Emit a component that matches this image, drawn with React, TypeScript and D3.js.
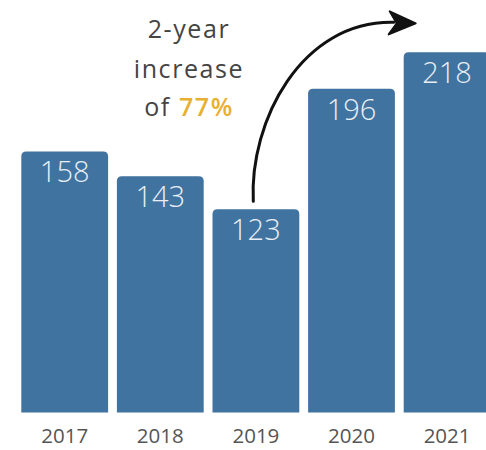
import React from "react";
import * as d3 from "d3";

const years = ["2017", "2018", "2019", "2020", "2021"];
const values = [158, 143, 123, 196, 218];
const annotationLines = ["2-year", "increase", "of "];
const highlight = "77%";

const W = 486;
const H = 450;
const BAR = "#40739f";

function topRoundedRect(x: number, y: number, w: number, h: number, r: number) {
  return `M${x},${y + h}V${y + r}Q${x},${y} ${x + r},${y}H${x + w - r}Q${x + w},${y} ${x + w},${y + r}V${y + h}Z`;
}

export default function App() {
  const x = d3.scaleBand<string>().domain(years).range([21.3, 490.5]).paddingInner(0.092).paddingOuter(0);
  const y = d3.scaleLinear().domain([0, 250]).range([412.5, -0.5]);
  const bw = x.bandwidth();

  const x19 = x("2019")!;
  const x21 = x("2021")!;
  const sx = x19 + bw * 0.47;
  const sy = y(123) - 8;
  const ex = x21 - 10;
  const ey = y(218) - 30;
  const arrowPath = `M${sx},${sy} C${sx - 4},${sy - 80} ${sx + 48},${ey - 2} ${ex},${ey}`;
  const tipX = ex + 22;
  const tipY = ey + 1;
  const head = `M${ex - 4},${ey - 11} L${tipX},${tipY} L${ex - 5},${ey + 12} L${ex + 3},${ey + 1} Z`;

  const font = "'Open Sans', 'Noto Sans', sans-serif";
  const annX = 189;
  const baselines = [38, 78, 116];

  return (
    <svg width={W} height={H} style={{ position: "absolute", left: 0, top: 0, background: "#fff" }}>
      {years.map((yr, i) => (
        <path key={yr} d={topRoundedRect(x(yr)!, y(values[i]), bw, y(0) - y(values[i]), 5)} fill={BAR} />
      ))}
      {years.map((yr, i) => (
        <text
          key={"v" + yr}
          x={x(yr)! + bw / 2}
          y={y(values[i]) + 31}
          textAnchor="middle"
          fill="#e8eef5"
          fontFamily={font}
          fontWeight={300}
          fontSize={29}
        >
          {values[i]}
        </text>
      ))}
      {years.map((yr) => (
        <text
          key={"l" + yr}
          x={x(yr)! + bw / 2}
          y={443}
          textAnchor="middle"
          fill="#555"
          fontFamily={font}
          fontSize={20.5}
        >
          {yr}
        </text>
      ))}
      {annotationLines.map((t, i) => (
        <text
          key={"a" + i}
          x={annX}
          y={baselines[i]}
          textAnchor="middle"
          fill="#444"
          fontFamily={font}
          fontSize={25}
          letterSpacing={1.6}
        >
          {t}
          {i === 2 ? (
            <tspan fill="#e8b030" fontWeight={600}>
              {highlight}
            </tspan>
          ) : null}
        </text>
      ))}
      <path d={arrowPath} fill="none" stroke="#111" strokeWidth={3} strokeLinecap="round" />
      <path d={head} fill="#111" stroke="#111" strokeWidth={2} strokeLinejoin="round" />
    </svg>
  );
}
